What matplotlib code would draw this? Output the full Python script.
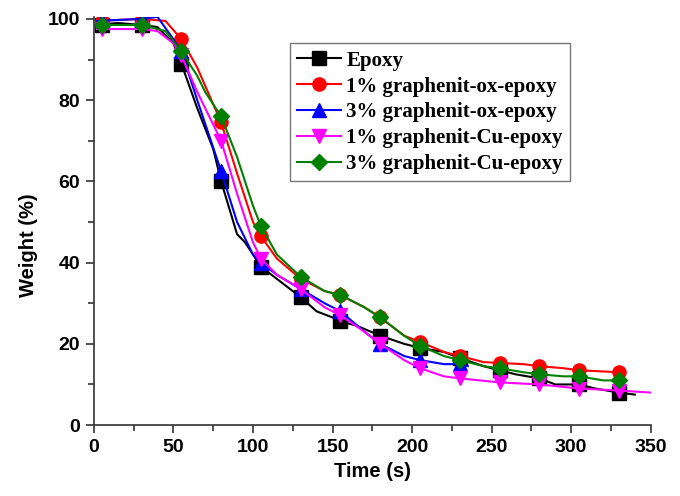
# TGA curves: weight loss vs time for epoxy and graphene-filled epoxy
import matplotlib
matplotlib.use("Agg")
import matplotlib.pyplot as plt
from matplotlib.ticker import MultipleLocator

# marker positions (s)
mark_t = [5, 30, 55, 80, 105, 130, 155, 180, 205, 230, 255, 280, 305, 330]

# Epoxy
ep_line_t = [2, 15, 30, 40, 50, 55, 65, 75, 80, 90, 95, 105, 115, 125, 130, 140, 150, 155,
             165, 180, 195, 205, 220, 230, 245, 255, 265, 280, 290, 305, 315, 330, 340]
ep_line_w = [98.5, 99, 98.5, 98, 94, 89, 78, 68, 60, 47, 45, 39, 36, 33, 31.5, 28, 26.5, 25.5,
             24.5, 22, 20, 19, 18, 16.5, 14.5, 13.5, 12.5, 11.5, 10, 10, 9, 8, 7.5]
ep_mark_w = [98.5, 98.5, 89, 60, 39, 31.5, 25.5, 22, 19, 16.5, 13.5, 11.5, 10, 8]

# 1% graphenit-ox-epoxy
ox1_line_t = [2, 30, 45, 55, 65, 80, 90, 100, 105, 115, 130, 145, 155, 170, 180, 195, 205,
              220, 230, 245, 255, 270, 280, 295, 305, 330]
ox1_line_w = [99.5, 100, 99.5, 95, 88, 74.5, 62, 50, 46.5, 41, 36, 33, 32, 29, 26.5, 22, 20.5,
              18, 17, 15.5, 15.3, 15, 14.5, 14, 13.5, 13]
ox1_mark_w = [99.5, 100, 95, 74.5, 46.5, 36, 32, 26.5, 20.5, 17, 15.3, 14.5, 13.5, 13]

# 3% graphenit-ox-epoxy
ox3_line_t = [2, 30, 40, 50, 55, 65, 80, 90, 100, 105, 115, 130, 145, 155, 170, 180, 195,
              205, 220, 230, 235]
ox3_line_w = [99.5, 100, 100.5, 95, 92, 80, 62.5, 50, 42, 40, 37, 33.5, 30, 28, 23, 20, 17,
              16, 15, 15, 14.5]
ox3_mark_t = [5, 30, 55, 80, 105, 130, 155, 180, 205, 230]
ox3_mark_w = [99.5, 100, 92, 62.5, 40, 33.5, 28, 20, 16, 15]

# 1% graphenit-Cu-epoxy
cu1_line_t = [2, 30, 40, 50, 55, 65, 80, 90, 100, 105, 115, 130, 145, 155, 170, 180, 195,
              205, 220, 230, 255, 280, 305, 330, 350]
cu1_line_w = [97.5, 97.5, 97, 94, 91, 82, 70, 57, 45, 41, 37, 33.5, 29, 27, 23, 20, 16,
              14, 12, 11.5, 10.5, 10, 9, 8.5, 8]
cu1_mark_w = [97.5, 97.5, 91, 70, 41, 33.5, 27, 20, 14, 11.5, 10.5, 10, 9, 8.5]

# 3% graphenit-Cu-epoxy
cu3_line_t = [2, 5, 30, 45, 55, 65, 70, 80, 90, 100, 105, 115, 130, 145, 155, 170, 180, 195,
              205, 220, 230, 245, 255, 270, 280, 295, 305, 320, 330]
cu3_line_w = [98, 98.5, 98.5, 97, 92, 86, 82, 76, 66, 54, 49, 42, 36.5, 33, 32, 29, 26.5, 22,
              19.5, 17, 16, 14.5, 14, 13, 12.5, 12, 12, 11, 11]
cu3_mark_w = [98.5, 98.5, 92, 76, 49, 36.5, 32, 26.5, 19.5, 16, 14, 12.5, 12, 11]

series = [
    ("Epoxy", "black", "s", ep_line_t, ep_line_w, mark_t, ep_mark_w),
    ("1% graphenit-ox-epoxy", "red", "o", ox1_line_t, ox1_line_w, mark_t, ox1_mark_w),
    ("3% graphenit-ox-epoxy", "blue", "^", ox3_line_t, ox3_line_w, ox3_mark_t, ox3_mark_w),
    ("1% graphenit-Cu-epoxy", "magenta", "v", cu1_line_t, cu1_line_w, mark_t, cu1_mark_w),
    ("3% graphenit-Cu-epoxy", "green", "D", cu3_line_t, cu3_line_w, mark_t, cu3_mark_w),
]

sans = "Liberation Sans"

fig = plt.figure(figsize=(6.8, 4.96), dpi=100)
ax = fig.add_axes([0.138, 0.143, 0.819, 0.823])

handles = []
for label, color, mk, lt, lw, mt, mw in series:
    ms = 8.5 if mk == "D" else 9.5
    ax.plot(lt, lw, color=color, lw=1.5)
    ax.plot(mt, mw, linestyle="none", marker=mk, color=color, ms=ms)
    h, = ax.plot([], [], color=color, lw=1.5, marker=mk, ms=ms, label=label)
    handles.append(h)

ax.set_xlim(0, 350)
ax.set_ylim(0, 100.5)
ax.xaxis.set_major_locator(MultipleLocator(50))
ax.xaxis.set_minor_locator(MultipleLocator(25))
ax.yaxis.set_major_locator(MultipleLocator(20))
ax.yaxis.set_minor_locator(MultipleLocator(10))
ax.spines["top"].set_visible(False)
ax.spines["right"].set_visible(False)
for s in ("left", "bottom"):
    ax.spines[s].set_color("#333333")
    ax.spines[s].set_linewidth(1.2)
ax.tick_params(which="both", direction="out", color="#333333", width=1.2)
ax.tick_params(which="major", length=6, labelsize=14, pad=4)
ax.tick_params(which="minor", length=4)
for t in ax.get_xticklabels() + ax.get_yticklabels():
    t.set_family(sans)
    t.set_fontweight("bold")

ax.set_xlabel("Time (s)", fontsize=14.5, fontweight="bold", family=sans)
ax.set_ylabel("Weight (%)", fontsize=14.5, fontweight="bold", family=sans)
ax.xaxis.set_label_coords(0.5, -0.09)
ax.yaxis.set_label_coords(-0.1, 0.44)

leg = ax.legend(handles=handles, loc="upper left", bbox_to_anchor=(0.352, 0.935),
                prop={"family": "Liberation Serif", "weight": "bold", "size": 15},
                frameon=True, fancybox=False, handlelength=2.1, handletextpad=0.25,
                labelspacing=0.28, borderpad=0.35, borderaxespad=0)
leg.get_frame().set_edgecolor("#555555")
leg.get_frame().set_linewidth(1.0)

fig.savefig("out.png", dpi=100)
